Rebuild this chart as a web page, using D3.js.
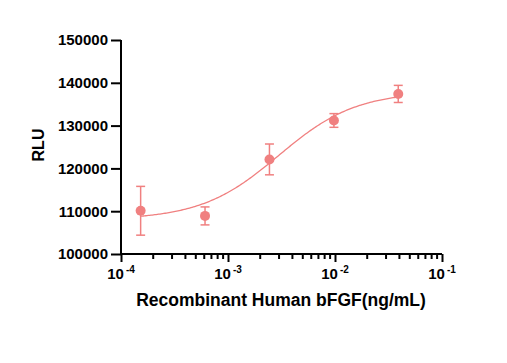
<!DOCTYPE html>
<html>
<head>
<meta charset="utf-8">
<script src="https://cdn.jsdelivr.net/npm/d3@7"></script>
<style>
  body { margin: 0; background: #fff; }
  text { font-family: "Liberation Sans", Arial, sans-serif; font-weight: bold; }
</style>
</head>
<body>
<div id="chart"></div>
<script>
// data (fourfold dilution series)
var doses = [0.0001526, 0.00061, 0.00244, 0.00977, 0.039];
var means = [110100, 108900, 122100, 131200, 137400];
var errs = [5700, 2100, 3600, 1600, 2000];
var yTicks = [100000, 110000, 120000, 130000, 140000, 150000];
var xTicks = [1e-4, 1e-3, 1e-2, 1e-1];

// 4PL fit parameters for the curve
var fitBottom = 108000, fitTop = 138000, fitEC50 = 0.00297, fitHill = 1.2;

var svgWidth = 507, svgHeight = 363;
var margin = {top: 40, right: 65, bottom: 109, left: 121};
var width = svgWidth - margin.left - margin.right;
var height = svgHeight - margin.top - margin.bottom;
var col = "#f08080";

var svg = d3.select("#chart").append("svg")
    .attr("width", svgWidth)
    .attr("height", svgHeight);

var chartGroup = svg.append("g")
    .attr("transform", `translate(${margin.left}, ${margin.top})`);

var x = d3.scaleLog().domain([1e-4, 1e-1]).range([0, width]);
var y = d3.scaleLinear().domain([100000, 150000]).range([height, 0]);

// y axis
var yAxis = chartGroup.append("g")
    .call(d3.axisLeft(y).tickValues(yTicks).tickSize(10).tickPadding(3).tickFormat(d3.format("d")));
yAxis.select(".domain").attr("stroke-width", 2).attr("d", `M0,${height + 1}V0`);
yAxis.selectAll(".tick line").attr("stroke-width", 2);
yAxis.selectAll(".tick text").attr("font-size", 15).attr("font-family", null).attr("fill", "#000");

// x axis with minor ticks
var minor = [];
for (var e = -4; e < -1; e++) {
    for (var k = 2; k <= 9; k++) minor.push(k * Math.pow(10, e));
}
var xAxis = chartGroup.append("g")
    .attr("transform", `translate(0, ${height})`)
    .call(d3.axisBottom(x).tickValues(xTicks).tickSize(8).tickFormat(""));
xAxis.select(".domain").attr("stroke-width", 2).attr("d", `M-1,0H${width}`);
xAxis.selectAll(".tick line").attr("stroke-width", 2);

chartGroup.append("g")
    .attr("transform", `translate(0, ${height})`)
    .selectAll("line")
    .data(minor)
    .enter()
    .append("line")
    .attr("x1", d => x(d)).attr("x2", d => x(d))
    .attr("y1", 0).attr("y2", 5)
    .attr("stroke", "#000").attr("stroke-width", 2);

// x tick labels 10^n
var xl = chartGroup.append("g").selectAll("text")
    .data(xTicks)
    .enter()
    .append("text")
    .attr("x", d => x(d))
    .attr("y", height + 25)
    .attr("text-anchor", "middle")
    .attr("font-size", 15);
xl.append("tspan").text("10");
xl.append("tspan")
    .attr("font-size", 10)
    .attr("dy", -6)
    .attr("dx", 2)
    .text(d => Math.round(Math.log10(d)));

// fitted curve
var curveX = d3.range(0, 201).map(i => Math.pow(10, Math.log10(doses[0]) + i / 200 * (Math.log10(doses[4]) - Math.log10(doses[0]))));
var fit = d => fitBottom + (fitTop - fitBottom) / (1 + Math.pow(fitEC50 / d, fitHill));
chartGroup.append("path")
    .datum(curveX)
    .attr("fill", "none")
    .attr("stroke", col)
    .attr("stroke-width", 1.3)
    .attr("d", d3.line().x(d => x(d)).y(d => y(fit(d))));

// error bars
var pts = doses.map((d, i) => ({dose: d, mean: means[i], err: errs[i]}));
var eb = chartGroup.append("g").attr("stroke", col).attr("stroke-width", 1.5);
eb.selectAll(".v").data(pts).enter().append("line")
    .attr("x1", d => x(d.dose)).attr("x2", d => x(d.dose))
    .attr("y1", d => y(d.mean - d.err)).attr("y2", d => y(d.mean + d.err));
eb.selectAll(".t").data(pts).enter().append("line")
    .attr("x1", d => x(d.dose) - 4.5).attr("x2", d => x(d.dose) + 4.5)
    .attr("y1", d => y(d.mean + d.err)).attr("y2", d => y(d.mean + d.err));
eb.selectAll(".b").data(pts).enter().append("line")
    .attr("x1", d => x(d.dose) - 4.5).attr("x2", d => x(d.dose) + 4.5)
    .attr("y1", d => y(d.mean - d.err)).attr("y2", d => y(d.mean - d.err));

// points
chartGroup.selectAll("circle")
    .data(pts)
    .enter()
    .append("circle")
    .attr("cx", d => x(d.dose))
    .attr("cy", d => y(d.mean))
    .attr("r", 5)
    .attr("fill", col);

// axis titles
chartGroup.append("text")
    .attr("transform", "rotate(-90)")
    .attr("x", -105)
    .attr("y", -77)
    .attr("text-anchor", "middle")
    .attr("font-size", 16)
    .text("RLU");

chartGroup.append("text")
    .attr("x", 160)
    .attr("y", height + 52)
    .attr("text-anchor", "middle")
    .attr("font-size", 17.5)
    .text("Recombinant Human bFGF(ng/mL)");
</script>
</body>
</html>
